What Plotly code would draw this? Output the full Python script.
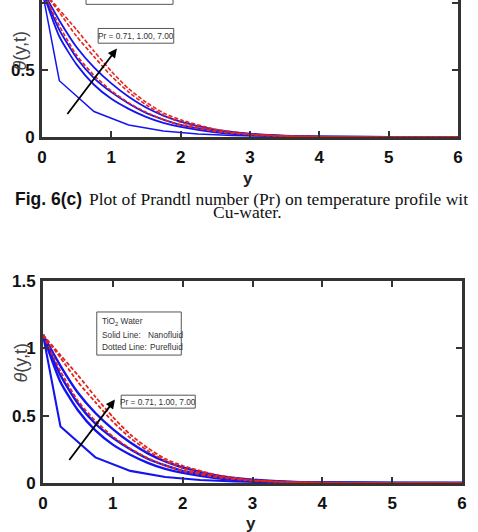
import plotly.graph_objects as go

# ---------------- data ----------------
y_grid = [0, 0.25, 0.5, 0.75, 1, 1.25, 1.5, 1.75, 2, 2.5, 3, 3.5, 4, 5, 6]

pure_pr071 = [1.1, 0.95, 0.80, 0.64, 0.49, 0.36, 0.26, 0.18, 0.128, 0.058, 0.022, 0.008, 0.003, 0.0, 0.0]
pure_pr100 = [1.1, 0.93, 0.75, 0.60, 0.455, 0.335, 0.24, 0.165, 0.11, 0.047, 0.017, 0.006, 0.002, 0.0, 0.0]
pure_pr700 = [1.1, 0.83, 0.61, 0.46, 0.345, 0.255, 0.185, 0.13, 0.09, 0.042, 0.018, 0.007, 0.002, 0.0, 0.0]

nano_a = [1.1, 0.87, 0.67, 0.52, 0.40, 0.30, 0.22, 0.16, 0.115, 0.055, 0.025, 0.010, 0.004, 0.001, 0.0]
nano_b = [1.1, 0.80, 0.59, 0.44, 0.335, 0.25, 0.18, 0.13, 0.090, 0.045, 0.020, 0.008, 0.003, 0.001, 0.0]
nano_c = [1.1, 0.75, 0.54, 0.39, 0.285, 0.21, 0.15, 0.105, 0.075, 0.035, 0.015, 0.006, 0.002, 0.0, 0.0]

coarse_y = [0, 0.25, 0.75, 1.25, 1.75, 2.25, 2.75, 3.25, 3.75, 4.25, 5, 6]
coarse_theta = [1.1, 0.42, 0.19, 0.09, 0.045, 0.022, 0.011, 0.005, 0.002, 0.001, 0.0, 0.0]

x_ticks = [0, 1, 2, 3, 4, 5, 6]
y_ticks = [0, 0.5, 1, 1.5]

BLUE = "#1414f0"
RED = "#e3241e"
AX = "#333333"
W, H = 478, 532

fig = go.Figure()

def add_curves(xa, ya, wblue, wred):
    for s in (nano_a, nano_b, nano_c):
        fig.add_trace(go.Scatter(x=y_grid, y=s, mode="lines", line=dict(color=BLUE, width=wblue, shape="spline", smoothing=0.6),
                                 xaxis=xa, yaxis=ya, showlegend=False, hoverinfo="skip"))
    fig.add_trace(go.Scatter(x=coarse_y, y=coarse_theta, mode="lines", line=dict(color=BLUE, width=wblue - 0.3),
                             xaxis=xa, yaxis=ya, showlegend=False, hoverinfo="skip"))
    for s in (pure_pr071, pure_pr100, pure_pr700):
        fig.add_trace(go.Scatter(x=y_grid, y=s, mode="lines", line=dict(color=RED, width=wred, dash="4px,2px", shape="spline", smoothing=0.6),
                                 xaxis=xa, yaxis=ya, showlegend=False, hoverinfo="skip"))

add_curves("x", "y", 1.8, 1.6)
add_curves("x2", "y2", 2.4, 1.8)

tickfont = dict(family="Liberation Sans", size=17, color="#111111", weight="bold")

top_x0, top_x1, top_yb = 42, 458, 137
top_ymax = top_yb / 134.0
bot_x0, bot_x1, bot_yb, bot_yt = 43, 462, 483, 281

common = dict(ticks="inside", ticklen=6, tickwidth=2, tickcolor=AX, showline=True, linewidth=3, linecolor=AX,
              showgrid=False, zeroline=False, tickfont=tickfont, automargin=False)

fig.update_layout(
    width=W, height=H, margin=dict(l=0, r=0, t=0, b=0, autoexpand=False),
    paper_bgcolor="white", plot_bgcolor="white",
    xaxis=dict(domain=[top_x0 / W, top_x1 / W], anchor="y", range=[0, 6], tickvals=x_ticks,
               mirror=False, ticklabelstandoff=3, **common),
    yaxis=dict(domain=[1 - top_yb / H, 1], anchor="x", range=[0, top_ymax], tickvals=y_ticks,
               mirror="ticks", ticklabelstandoff=1, **common),
    xaxis2=dict(domain=[bot_x0 / W, bot_x1 / W], anchor="y2", range=[0, 6], tickvals=x_ticks,
                mirror="ticks", ticklabelstandoff=3, **common),
    yaxis2=dict(domain=[1 - bot_yb / H, 1 - bot_yt / H], anchor="x2", range=[0, 1.5], tickvals=y_ticks,
                mirror="ticks", ticklabelstandoff=1, **common),
)

box_line = dict(color="#555555", width=1)
small = dict(family="Liberation Sans", size=8.3, color="#333333")

# --- bottom panel boxes and arrow ---
fig.add_shape(type="rect", xref="x2", yref="y2", x0=0.77, x1=1.98, y0=0.95, y1=1.27, line=box_line, fillcolor="white")
fig.add_annotation(xref="x2", yref="y2", x=0.82, y=1.20, text="TiO<sub>2</sub> Water", showarrow=False, xanchor="left", font=small)
fig.add_annotation(xref="x2", yref="y2", x=0.82, y=1.096, text="Solid Line:", showarrow=False, xanchor="left", font=small)
fig.add_annotation(xref="x2", yref="y2", x=1.48, y=1.096, text="Nanofluid", showarrow=False, xanchor="left", font=small)
fig.add_annotation(xref="x2", yref="y2", x=0.82, y=1.007, text="Dotted Line:", showarrow=False, xanchor="left", font=small)
fig.add_annotation(xref="x2", yref="y2", x=1.50, y=1.007, text="Purefluid", showarrow=False, xanchor="left", font=small)

fig.add_shape(type="rect", xref="x2", yref="y2", x0=1.12, x1=2.18, y0=0.556, y1=0.652, line=box_line, fillcolor="white")
fig.add_annotation(xref="x2", yref="y2", x=1.65, y=0.604, text="Pr = 0.71, 1.00, 7.00", showarrow=False, font=small)
fig.add_annotation(xref="x2", yref="y2", axref="x2", ayref="y2", x=1.03, y=0.62, ax=0.36, ay=0.16, text="",
                   showarrow=True, arrowhead=2, arrowsize=1, arrowwidth=1.8, arrowcolor="black")

# --- top panel boxes and arrow ---
fig.add_shape(type="rect", xref="x", yref="y", x0=0.635, x1=1.89, y0=0.99, y1=1.4, line=box_line, fillcolor="white")
fig.add_shape(type="rect", xref="x", yref="y", x0=0.81, x1=1.90, y0=0.70, y1=0.81, line=box_line, fillcolor="white")
fig.add_annotation(xref="x", yref="y", x=1.355, y=0.757, text="Pr = 0.71, 1.00, 7.00", showarrow=False, font=small)
fig.add_annotation(xref="x", yref="y", axref="x", ayref="y", x=1.08, y=0.66, ax=0.35, ay=0.16, text="",
                   showarrow=True, arrowhead=2, arrowsize=1, arrowwidth=1.8, arrowcolor="black")

# --- axis titles ---
title_font = dict(family="Liberation Sans", size=17, color="#222222", weight="bold")
theta_font = dict(family="Liberation Sans", size=18, color="#444444")
fig.add_annotation(xref="paper", yref="paper", x=248 / W, y=1 - 178 / H, text="y", showarrow=False, font=title_font)
fig.add_annotation(xref="paper", yref="paper", x=251 / W, y=1 - 535 / H, text="y", showarrow=False, font=title_font)
fig.add_annotation(xref="paper", yref="paper", x=8 / W, y=1 - 30 / H, text="<i>θ</i>(y,t)", textangle=-90, showarrow=False, font=theta_font)
fig.add_annotation(xref="paper", yref="paper", x=8 / W, y=1 - 385 / H, text="<i>θ</i>(y,t)", textangle=-90, showarrow=False, font=theta_font)

# --- caption ---
cap = 17.5
fig.add_annotation(xref="paper", yref="paper", x=13 / W, y=1 - 199 / H, xanchor="left", text="<b>Fig. 6(c)</b>", showarrow=False,
                   font=dict(family="Liberation Sans", size=cap, color="#111111"))
fig.add_annotation(xref="paper", yref="paper", x=87 / W, y=1 - 199 / H, xanchor="left",
                   text="Plot of Prandtl number (Pr) on temperature profile wit", showarrow=False,
                   font=dict(family="Liberation Serif", size=cap, color="#111111"))
fig.add_annotation(xref="paper", yref="paper", x=247 / W, y=1 - 212 / H, text="Cu-water.", showarrow=False,
                   font=dict(family="Liberation Serif", size=cap, color="#111111"))

fig.write_html("out.html")
